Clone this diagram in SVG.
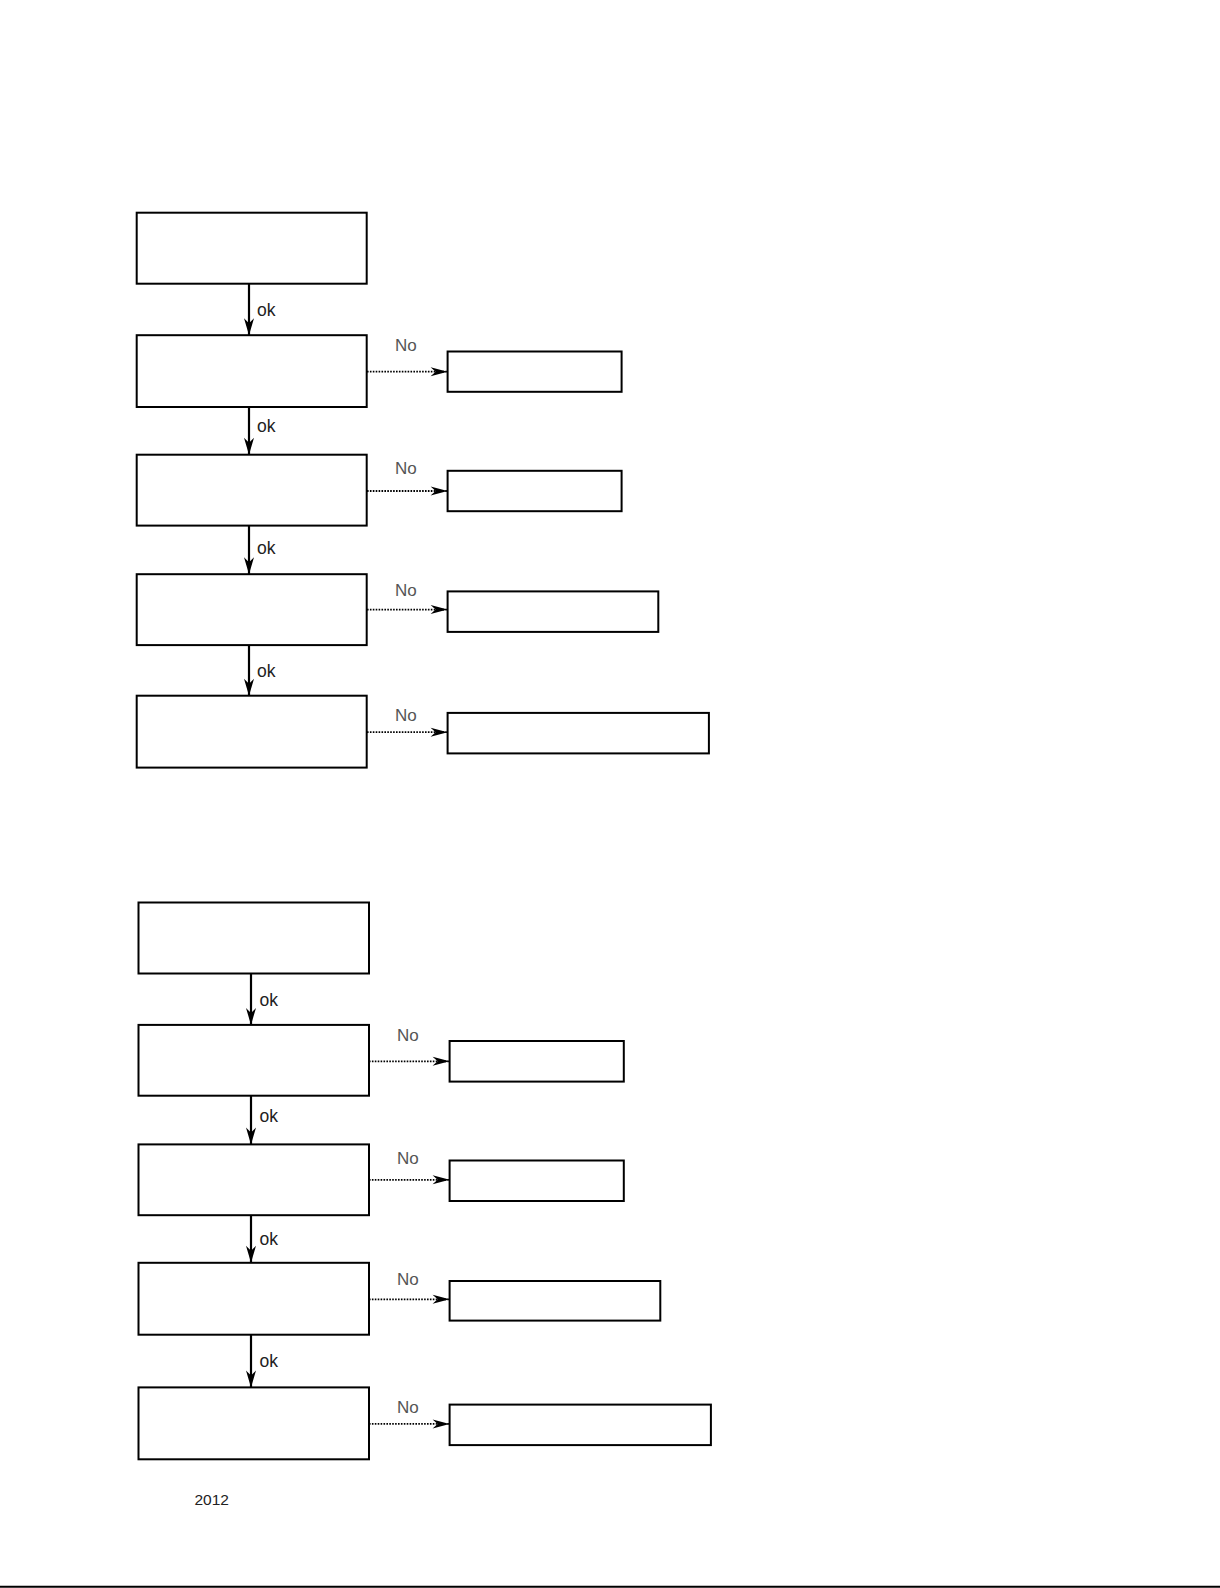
<svg xmlns="http://www.w3.org/2000/svg" width="1220" height="1588" viewBox="0 0 1220 1588">
<style>
.box{fill:#fff;stroke:#000;stroke-width:2}
.rbox{fill:#fff;stroke:#000;stroke-width:2}
.flow{stroke:#000;stroke-width:2.2;fill:none}
.dot{stroke:#000;stroke-width:1.8;stroke-dasharray:1.6 1.3;fill:none}
.ok{font-family:"Liberation Sans",Arial,sans-serif;font-size:17.5px;fill:#222}
.no{font-family:"Liberation Sans",Arial,sans-serif;font-size:17px;fill:#555}
.foot{font-family:"Liberation Sans",Arial,sans-serif;font-size:15.5px;fill:#222}
</style>
<defs>
<marker id="ah" markerUnits="userSpaceOnUse" markerWidth="18" markerHeight="12" refX="17" refY="5" orient="auto" overflow="visible">
<path d="M0,0 L17,5 L0,10 L5,5 Z" fill="#000"/>
</marker>
<marker id="ahd" markerUnits="userSpaceOnUse" markerWidth="18" markerHeight="12" refX="17" refY="5" orient="auto" overflow="visible">
<path d="M0,0.5 L17,5 L0,9.5 L5,5 Z" fill="#000"/>
</marker>
</defs>
<rect width="1220" height="1588" fill="#fff"/>

<g id="connectors">
<line class="flow" x1="249" y1="283.6" x2="249" y2="335.2" marker-end="url(#ah)"/>
<line class="flow" x1="249" y1="407" x2="249" y2="454.7" marker-end="url(#ah)"/>
<line class="flow" x1="249" y1="525.6" x2="249" y2="574.2" marker-end="url(#ah)"/>
<line class="flow" x1="249" y1="645.1" x2="249" y2="695.7" marker-end="url(#ah)"/>
<line class="dot" x1="367" y1="371.7" x2="447.6" y2="371.7" marker-end="url(#ahd)"/>
<line class="dot" x1="367" y1="491" x2="447.6" y2="491" marker-end="url(#ahd)"/>
<line class="dot" x1="367" y1="609.6" x2="447.6" y2="609.6" marker-end="url(#ahd)"/>
<line class="dot" x1="367" y1="732.2" x2="447.6" y2="732.2" marker-end="url(#ahd)"/>
<line class="flow" x1="251" y1="973.4" x2="251" y2="1024.9" marker-end="url(#ah)"/>
<line class="flow" x1="251" y1="1095.7" x2="251" y2="1144.4" marker-end="url(#ah)"/>
<line class="flow" x1="251" y1="1215.2" x2="251" y2="1262.8" marker-end="url(#ah)"/>
<line class="flow" x1="251" y1="1334.7" x2="251" y2="1387.4" marker-end="url(#ah)"/>
<line class="dot" x1="369" y1="1061.3" x2="449.6" y2="1061.3" marker-end="url(#ahd)"/>
<line class="dot" x1="369" y1="1179.8" x2="449.6" y2="1179.8" marker-end="url(#ahd)"/>
<line class="dot" x1="369" y1="1299.3" x2="449.6" y2="1299.3" marker-end="url(#ahd)"/>
<line class="dot" x1="369" y1="1423.9" x2="449.6" y2="1423.9" marker-end="url(#ahd)"/>
<text class="ok" x="257" y="316">ok</text>
<text class="ok" x="257" y="432">ok</text>
<text class="ok" x="257" y="553.5">ok</text>
<text class="ok" x="257" y="677">ok</text>
<text class="no" x="395" y="350.5">No</text>
<text class="no" x="395" y="474">No</text>
<text class="no" x="395" y="595.5">No</text>
<text class="no" x="395" y="721">No</text>
<text class="ok" x="259.5" y="1006">ok</text>
<text class="ok" x="259.5" y="1122">ok</text>
<text class="ok" x="259.5" y="1244.5">ok</text>
<text class="ok" x="259.5" y="1367">ok</text>
<text class="no" x="397" y="1040.5">No</text>
<text class="no" x="397" y="1163.5">No</text>
<text class="no" x="397" y="1285">No</text>
<text class="no" x="397" y="1412.5">No</text>
</g>

<g id="top-b1"><rect class="box" x="136.7" y="212.7" width="230" height="71"/></g>
<g id="top-b2"><rect class="box" x="136.7" y="335.2" width="230" height="71.8"/></g>
<g id="top-b3"><rect class="box" x="136.7" y="454.7" width="230" height="70.9"/></g>
<g id="top-b4"><rect class="box" x="136.7" y="574.2" width="230" height="70.9"/></g>
<g id="top-b5"><rect class="box" x="136.7" y="695.7" width="230" height="71.9"/></g>
<g id="top-r1"><rect class="rbox" x="447.6" y="351.5" width="174" height="40.3"/></g>
<g id="top-r2"><rect class="rbox" x="447.6" y="470.8" width="174" height="40.4"/></g>
<g id="top-r3"><rect class="rbox" x="447.6" y="591.4" width="210.7" height="40.5"/></g>
<g id="top-r4"><rect class="rbox" x="447.6" y="712.9" width="261.3" height="40.5"/></g>

<g id="bot-b1"><rect class="box" x="138.5" y="902.5" width="230.5" height="71"/></g>
<g id="bot-b2"><rect class="box" x="138.5" y="1024.9" width="230.5" height="70.8"/></g>
<g id="bot-b3"><rect class="box" x="138.5" y="1144.4" width="230.5" height="70.8"/></g>
<g id="bot-b4"><rect class="box" x="138.5" y="1262.8" width="230.5" height="71.9"/></g>
<g id="bot-b5"><rect class="box" x="138.5" y="1387.4" width="230.5" height="71.9"/></g>
<g id="bot-r1"><rect class="rbox" x="449.6" y="1041" width="174.2" height="40.6"/></g>
<g id="bot-r2"><rect class="rbox" x="449.6" y="1160.5" width="174.2" height="40.5"/></g>
<g id="bot-r3"><rect class="rbox" x="449.6" y="1281" width="210.7" height="39.6"/></g>
<g id="bot-r4"><rect class="rbox" x="449.6" y="1404.6" width="261.3" height="40.5"/></g>

<text class="foot" x="194.5" y="1505">2012</text>
<line x1="0" y1="1586.8" x2="1220" y2="1586.8" stroke="#000" stroke-width="2"/>
</svg>
